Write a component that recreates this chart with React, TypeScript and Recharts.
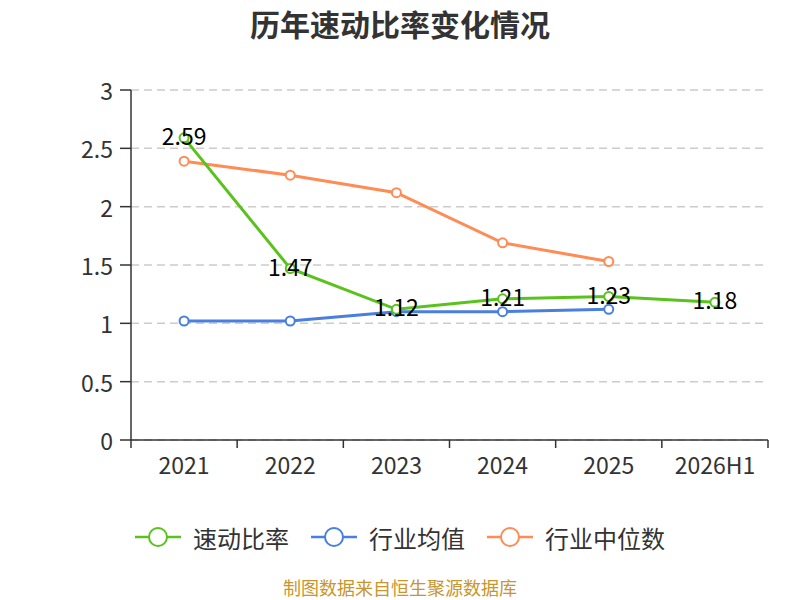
import React from "react";
import { LineChart, Line, XAxis, YAxis, CartesianGrid, LabelList } from "recharts";

const categories = ["2021", "2022", "2023", "2024", "2025", "2026H1"];
const quickRatio = [2.59, 1.47, 1.12, 1.21, 1.23, 1.18];
const industryMean = [1.02, 1.02, 1.1, 1.1, 1.12, null];
const industryMedian = [2.39, 2.27, 2.12, 1.69, 1.53, null];
const yTicks = [0, 0.5, 1, 1.5, 2, 2.5, 3];

const seriesNames = ["速动比率", "行业均值", "行业中位数"];
const colors = ["#5AC21D", "#4A7FE0", "#FF8B55"];

const data = categories.map((c, i) => ({
  pos: i + 0.5,
  name: c,
  quick: quickRatio[i],
  mean: industryMean[i],
  median: industryMedian[i],
}));

const W = 800;
const H = 600;
const M = { top: 90, right: 32, left: 0, bottom: 120 };
const Y_AXIS_W = 131;
const FONT = '"Noto Sans CJK SC", "Noto Sans", sans-serif';
const band = (W - M.left - M.right - Y_AXIS_W) / categories.length;

const XTick = (props: any) => {
  const { x, y, payload } = props;
  const i = payload.value;
  if (i >= categories.length) return null;
  return (
    <text x={x + band / 2} y={y + 14} textAnchor="middle" dominantBaseline="central" fontSize={23} fill="#333" fontFamily={FONT}>
      {categories[i]}
    </text>
  );
};

const YTick = (props: any) => {
  const { x, y, payload } = props;
  return (
    <text x={x - 5} y={y} textAnchor="end" dominantBaseline="central" fontSize={23} fill="#333" fontFamily={FONT}>
      {payload.value}
    </text>
  );
};

const PointLabel = (props: any) => {
  const { x, y, value } = props;
  if (value == null) return null;
  return (
    <text x={x} y={y - 3} textAnchor="middle" dominantBaseline="central" fontSize={23} fill="#000" fontFamily={FONT}>
      {value.toFixed(2)}
    </text>
  );
};

const LegendRow = () => (
  <div style={{ position: "absolute", left: 0, top: 520, width: W, height: 34, display: "flex", justifyContent: "center", alignItems: "center", fontFamily: FONT, fontSize: 24, color: "#333" }}>
    {seriesNames.map((n, i) => (
      <div key={n} style={{ display: "flex", alignItems: "center", marginRight: i < 2 ? 22 : 0 }}>
        <svg width={46} height={22} style={{ marginRight: 12 }}>
          <line x1={0} y1={11} x2={46} y2={11} stroke={colors[i]} strokeWidth={2.5} />
          <circle cx={23} cy={11} r={9} fill="#fff" stroke={colors[i]} strokeWidth={2} />
        </svg>
        <span>{n}</span>
      </div>
    ))}
  </div>
);

const dotStyle = { r: 4.5, fill: "#fff", strokeWidth: 2 };

export default function App() {
  return (
    <div style={{ position: "absolute", left: 0, top: 0, width: W, height: H, background: "#fff", overflow: "hidden" }}>
      <div style={{ position: "absolute", left: 0, top: 3, width: W, textAlign: "center", fontFamily: FONT, fontSize: 30, fontWeight: 700, color: "#333", lineHeight: "40px" }}>
        历年速动比率变化情况
      </div>
      <LineChart width={W} height={H} data={data} margin={M}>
        <CartesianGrid horizontal vertical={false} stroke="#ccc" strokeDasharray="8 5" strokeWidth={1.5} />
        <XAxis
          dataKey="pos"
          type="number"
          domain={[0, categories.length]}
          ticks={[0, 1, 2, 3, 4, 5, 6]}
          interval={0}
          tick={<XTick />}
          tickSize={8}
          axisLine={{ stroke: "#333", strokeWidth: 1.5 }}
          tickLine={{ stroke: "#333", strokeWidth: 1.5 }}
          height={40}
        />
        <YAxis
          domain={[0, 3]}
          ticks={yTicks}
          width={Y_AXIS_W}
          tick={<YTick />}
          tickSize={11}
          axisLine={{ stroke: "#333", strokeWidth: 1.5 }}
          tickLine={{ stroke: "#333", strokeWidth: 1.5 }}
        />
        <Line dataKey="median" name={seriesNames[2]} stroke={colors[2]} strokeWidth={3} dot={dotStyle} isAnimationActive={false} />
        <Line dataKey="mean" name={seriesNames[1]} stroke={colors[1]} strokeWidth={3} dot={dotStyle} isAnimationActive={false} />
        <Line dataKey="quick" name={seriesNames[0]} stroke={colors[0]} strokeWidth={3} dot={dotStyle} isAnimationActive={false}>
          <LabelList dataKey="quick" content={<PointLabel />} />
        </Line>
      </LineChart>
      <LegendRow />
      <div style={{ position: "absolute", left: 0, top: 576, width: W, textAlign: "center", fontFamily: FONT, fontSize: 18, color: "#C8952E", lineHeight: "22px" }}>
        制图数据来自恒生聚源数据库
      </div>
    </div>
  );
}
